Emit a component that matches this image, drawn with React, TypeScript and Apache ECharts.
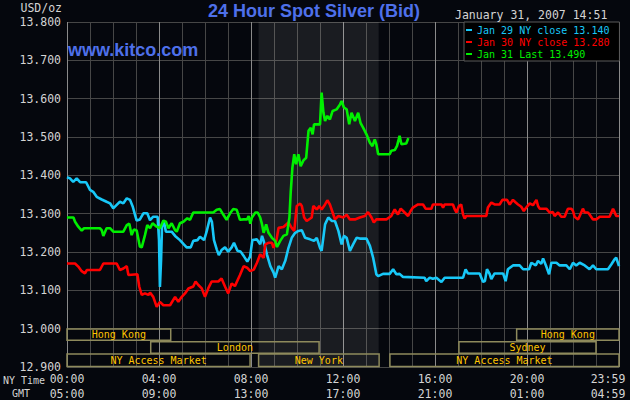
import React, { useEffect, useRef } from "react";
import * as echarts from "echarts";

const MONO = '"DejaVu Sans Mono", monospace';
const SANS = '"Liberation Sans", Arial, sans-serif';

const CYAN = "#18c8f8";
const RED = "#ff0000";
const GREEN = "#00f000";

const seriesNames = ["Jan 29 NY close 13.140", "Jan 30 NY close 13.280", "Jan 31 Last 13.490"];
const nyTimeLabels = ["00:00", "04:00", "08:00", "12:00", "16:00", "20:00", "23:59"];
const gmtLabels = ["05:00", "09:00", "13:00", "17:00", "21:00", "01:00", "04:59"];

// [hours since 00:00 NY, USD/oz]
const jan29: [number, number][] = [
  [0, 13.395], [0.13, 13.392], [0.27, 13.383], [0.42, 13.392], [0.57, 13.382], [0.83, 13.382],
  [1.0, 13.362], [1.14, 13.357], [1.29, 13.344], [1.51, 13.337], [1.72, 13.331], [1.87, 13.327],
  [2.01, 13.314], [2.16, 13.323], [2.3, 13.331], [2.45, 13.327], [2.6, 13.34], [2.74, 13.336],
  [2.86, 13.318], [2.96, 13.296], [3.03, 13.282], [3.17, 13.285], [3.32, 13.301], [3.49, 13.301],
  [3.61, 13.283], [3.75, 13.292], [3.94, 13.292], [4.0, 13.231], [4.04, 13.109], [4.09, 13.179],
  [4.13, 13.266], [4.22, 13.279], [4.3, 13.253], [4.55, 13.253], [4.7, 13.242], [4.91, 13.231],
  [5.06, 13.221], [5.2, 13.212], [5.38, 13.212], [5.49, 13.229], [5.67, 13.231], [5.78, 13.24],
  [5.96, 13.231], [6.07, 13.253], [6.22, 13.29], [6.3, 13.279], [6.39, 13.231], [6.51, 13.207],
  [6.6, 13.192], [6.72, 13.205], [6.87, 13.212], [7.01, 13.201], [7.16, 13.212], [7.26, 13.224],
  [7.41, 13.203], [7.55, 13.201], [7.7, 13.188], [7.84, 13.175], [7.96, 13.188], [8.06, 13.231],
  [8.25, 13.233], [8.4, 13.22], [8.48, 13.242], [8.55, 13.229], [8.69, 13.194], [8.84, 13.163],
  [8.98, 13.146], [9.05, 13.133], [9.2, 13.163], [9.34, 13.155], [9.49, 13.177], [9.63, 13.211],
  [9.77, 13.237], [9.92, 13.25], [10.06, 13.255], [10.21, 13.257], [10.35, 13.237], [10.57, 13.233],
  [10.74, 13.229], [10.86, 13.237], [11.0, 13.211], [11.07, 13.203], [11.22, 13.272], [11.36, 13.29],
  [11.51, 13.281], [11.65, 13.281], [11.8, 13.255], [11.94, 13.22], [12.04, 13.242], [12.16, 13.237],
  [12.3, 13.203], [12.44, 13.22], [12.59, 13.237], [12.73, 13.235], [13.02, 13.235], [13.17, 13.216],
  [13.31, 13.185], [13.45, 13.142], [13.53, 13.137], [13.74, 13.143], [14.03, 13.143], [14.18, 13.155],
  [14.32, 13.142], [14.46, 13.143], [14.61, 13.135], [15.55, 13.133], [15.62, 13.124], [15.77, 13.133],
  [15.91, 13.13], [16.06, 13.133], [16.28, 13.122], [16.42, 13.133], [17.22, 13.133], [17.33, 13.155],
  [17.43, 13.144], [17.94, 13.144], [18.09, 13.122], [18.17, 13.124], [18.26, 13.155], [18.38, 13.142],
  [18.45, 13.129], [18.59, 13.144], [18.96, 13.144], [19.07, 13.124], [19.17, 13.155], [19.39, 13.165],
  [19.68, 13.165], [19.83, 13.155], [20.09, 13.155], [20.19, 13.172], [20.38, 13.165], [20.48, 13.177],
  [20.62, 13.169], [20.7, 13.183], [20.84, 13.162], [20.96, 13.142], [21.06, 13.172], [21.28, 13.172],
  [21.42, 13.165], [21.71, 13.165], [21.86, 13.155], [22.0, 13.172], [22.14, 13.165], [22.29, 13.172],
  [22.51, 13.165], [22.72, 13.155], [22.87, 13.165], [23.01, 13.155], [23.52, 13.155], [23.67, 13.168],
  [23.81, 13.181], [23.88, 13.185], [24, 13.163],
];

const jan30: [number, number][] = [
  [0, 13.17], [0.35, 13.17], [0.49, 13.162], [0.64, 13.15], [0.78, 13.144], [0.86, 13.153],
  [1.43, 13.153], [1.58, 13.17], [2.16, 13.17], [2.3, 13.153], [2.45, 13.157], [2.6, 13.163],
  [2.67, 13.14], [3.06, 13.142], [3.14, 13.11], [3.25, 13.088], [3.39, 13.092], [3.54, 13.088],
  [3.61, 13.094], [3.75, 13.083], [3.9, 13.057], [4.04, 13.07], [4.19, 13.061], [4.48, 13.061],
  [4.7, 13.083], [4.84, 13.07], [4.99, 13.083], [5.13, 13.092], [5.28, 13.105], [5.49, 13.11],
  [5.59, 13.123], [5.71, 13.114], [5.86, 13.105], [6.0, 13.083], [6.14, 13.105], [6.29, 13.123],
  [6.58, 13.123], [6.72, 13.131], [6.87, 13.11], [7.01, 13.092], [7.16, 13.118], [7.3, 13.111],
  [7.52, 13.14], [7.68, 13.163], [7.83, 13.159], [7.97, 13.15], [8.12, 13.154], [8.26, 13.172],
  [8.4, 13.194], [8.55, 13.185], [8.62, 13.22], [8.76, 13.224], [8.91, 13.224], [8.98, 13.211],
  [9.1, 13.229], [9.2, 13.263], [9.41, 13.265], [9.63, 13.277], [9.77, 13.263], [9.88, 13.255],
  [9.99, 13.32], [10.14, 13.326], [10.21, 13.32], [10.31, 13.29], [10.42, 13.281], [10.64, 13.29],
  [10.71, 13.32], [10.86, 13.311], [10.97, 13.32], [11.07, 13.311], [11.22, 13.324], [11.32, 13.335],
  [11.43, 13.324], [11.55, 13.303], [11.65, 13.285], [11.8, 13.294], [12.01, 13.29], [12.16, 13.297],
  [12.3, 13.285], [12.52, 13.285], [12.73, 13.29], [12.95, 13.294], [13.09, 13.304], [13.24, 13.29],
  [13.34, 13.277], [13.45, 13.285], [13.89, 13.285], [14.1, 13.294], [14.25, 13.311], [14.39, 13.298],
  [14.51, 13.313], [14.68, 13.303], [14.83, 13.294], [14.94, 13.307], [15.04, 13.316], [15.26, 13.324],
  [15.48, 13.324], [15.59, 13.313], [15.84, 13.313], [15.91, 13.324], [16.28, 13.324], [16.35, 13.316],
  [16.42, 13.324], [16.78, 13.324], [16.86, 13.311], [16.93, 13.303], [17.04, 13.32], [17.14, 13.324],
  [17.22, 13.298], [17.29, 13.287], [17.36, 13.294], [18.23, 13.294], [18.3, 13.316], [18.45, 13.329],
  [18.59, 13.324], [18.81, 13.324], [18.93, 13.336], [19.13, 13.336], [19.25, 13.324], [19.39, 13.336],
  [19.51, 13.329], [19.61, 13.324], [19.75, 13.318], [19.86, 13.307], [19.97, 13.316], [20.12, 13.327],
  [20.26, 13.322], [20.41, 13.336], [20.48, 13.32], [20.55, 13.313], [20.84, 13.313], [20.99, 13.303],
  [21.13, 13.304], [21.2, 13.294], [21.35, 13.303], [21.49, 13.292], [21.64, 13.292], [21.71, 13.303],
  [21.78, 13.313], [21.93, 13.313], [22.0, 13.307], [22.07, 13.292], [22.22, 13.285], [22.29, 13.294],
  [22.43, 13.313], [22.51, 13.303], [22.65, 13.303], [22.72, 13.298], [22.87, 13.285], [23.01, 13.285],
  [23.16, 13.292], [23.59, 13.292], [23.74, 13.313], [23.81, 13.304], [23.88, 13.294], [24, 13.294],
];

const jan31: [number, number][] = [
  [0, 13.29], [0.28, 13.29], [0.35, 13.279], [0.49, 13.266], [0.64, 13.256], [0.74, 13.262],
  [0.86, 13.262], [1.43, 13.262], [1.51, 13.257], [1.58, 13.242], [1.72, 13.262], [1.87, 13.262],
  [2.01, 13.253], [2.45, 13.253], [2.6, 13.27], [2.71, 13.274], [2.81, 13.244], [2.91, 13.259],
  [3.03, 13.256], [3.17, 13.214], [3.25, 13.212], [3.39, 13.244], [3.49, 13.27], [3.61, 13.262],
  [3.72, 13.275], [3.9, 13.266], [4.04, 13.262], [4.19, 13.282], [4.3, 13.279], [4.41, 13.262],
  [4.55, 13.275], [4.7, 13.257], [4.77, 13.253], [4.91, 13.275], [5.06, 13.279], [5.23, 13.288],
  [5.35, 13.284], [5.49, 13.303], [6.36, 13.303], [6.51, 13.31], [6.65, 13.312], [6.8, 13.297],
  [6.94, 13.284], [7.09, 13.301], [7.23, 13.312], [7.38, 13.31], [7.52, 13.284], [7.68, 13.285],
  [7.83, 13.285], [7.9, 13.294], [7.97, 13.274], [8.04, 13.29], [8.19, 13.303], [8.29, 13.303],
  [8.4, 13.29], [8.48, 13.272], [8.55, 13.25], [8.66, 13.272], [8.76, 13.25], [8.91, 13.237],
  [9.05, 13.229], [9.13, 13.213], [9.27, 13.229], [9.41, 13.242], [9.56, 13.246], [9.67, 13.29],
  [9.73, 13.359], [9.8, 13.42], [9.88, 13.455], [9.96, 13.429], [10.06, 13.455], [10.16, 13.424],
  [10.28, 13.439], [10.4, 13.446], [10.5, 13.516], [10.6, 13.524], [10.68, 13.507], [10.74, 13.533],
  [11.0, 13.533], [11.07, 13.616], [11.15, 13.563], [11.22, 13.542], [11.32, 13.555], [11.43, 13.546],
  [11.55, 13.568], [11.72, 13.572], [11.87, 13.585], [11.94, 13.594], [12.04, 13.577], [12.16, 13.572],
  [12.27, 13.533], [12.37, 13.563], [12.52, 13.542], [12.66, 13.563], [12.76, 13.537], [12.88, 13.524],
  [13.02, 13.507], [13.17, 13.485], [13.28, 13.476], [13.38, 13.494], [13.45, 13.481], [13.53, 13.455],
  [14.03, 13.455], [14.1, 13.464], [14.25, 13.466], [14.35, 13.477], [14.46, 13.503], [14.54, 13.481],
  [14.75, 13.483], [14.84, 13.497],
];

// COMEX (New York) trading hours shading, NY time
const comexHours = [8.33, 13.55];

// market session boxes along the bottom
const sessionNames = ["Hong Kong", "Hong Kong", "London", "Sydney", "NY Access Market", "New York", "NY Access Market"];
const sessionStart = [0, 19.55, 3.64, 17.04, 0, 8.33, 14.04];
const sessionEnd = [4.51, 24, 10.96, 23.0, 7.96, 13.57, 24];
const sessionRow = [0, 0, 1, 1, 2, 2, 2];
const rowTop = [12.999, 12.966, 12.934];
const rowBottom = [12.97, 12.936, 12.901];

export default function App() {
  const ref = useRef<HTMLDivElement>(null);

  useEffect(() => {
    document.body.style.margin = "0";
    document.body.style.background = "#05070d";
    if (!ref.current) return;
    const chart = echarts.init(ref.current, undefined, { renderer: "svg" });

    const sessionData = sessionNames.map((name, i) => [
      {
        name,
        xAxis: sessionStart[i],
        yAxis: rowTop[sessionRow[i]],
        itemStyle: { color: "rgba(0,0,0,0)", borderColor: "#8e8a5c", borderWidth: 1.5 },
        label: {
          show: true,
          position: "inside",
          color: "#ffc400",
          fontFamily: MONO,
          fontSize: 10,
        },
      },
      { xAxis: sessionEnd[i], yAxis: rowBottom[sessionRow[i]] },
    ]);

    const lineColors = [CYAN, RED, GREEN];
    const lineData = [jan29, jan30, jan31];

    chart.setOption({
      animation: false,
      backgroundColor: "#05070d",
      grid: {
        left: 67,
        top: 22,
        width: 552,
        height: 345,
        containLabel: false,
        outerBoundsMode: "none",
      },
      xAxis: {
        type: "value",
        min: 0,
        max: 24,
        interval: 1,
        axisLine: { show: false },
        axisTick: { show: false },
        splitLine: {
          show: true,
          lineStyle: { color: ["#8a8a8a", "#464646", "#464646", "#464646"], width: 1 },
        },
        axisLabel: {
          margin: 4,
          showMinLabel: true,
          showMaxLabel: true,
          hideOverlap: false,
          color: "#d4d4d4",
          fontFamily: MONO,
          fontSize: 11.5,
          lineHeight: 15,
          formatter: (v: number) => {
            if (Math.abs(v % 4) > 1e-6) return "";
            const i = Math.round(v / 4);
            if (i === 6) return `{e|${nyTimeLabels[i]}}\n{e|${gmtLabels[i]}}`;
            return `${nyTimeLabels[i]}\n${gmtLabels[i]}`;
          },
          rich: {
            e: {
              color: "#d4d4d4",
              fontFamily: MONO,
              fontSize: 11.5,
              lineHeight: 15,
              padding: [0, 22, 0, 0],
            },
          },
        },
      },
      yAxis: {
        type: "value",
        min: 12.9,
        max: 13.8,
        interval: 0.1,
        axisLine: { show: false },
        axisTick: { show: false },
        splitLine: { show: true, lineStyle: { color: "#464646", width: 1 } },
        axisLabel: {
          margin: 6,
          color: "#d4d4d4",
          fontFamily: MONO,
          fontSize: 11.5,
          formatter: (v: number) => v.toFixed(3),
        },
      },
      legend: {
        show: true,
        orient: "vertical",
        left: 464,
        top: 22,
        padding: [2, 10, 1, 2],
        itemGap: 0,
        itemWidth: 6,
        itemHeight: 2,
        icon: "rect",
        selectedMode: false,
        backgroundColor: "#000000",
        borderColor: "#5a5a5a",
        borderWidth: 1,
        textStyle: { fontFamily: MONO, fontSize: 10, lineHeight: 12 },
        data: seriesNames.map((name, i) => ({ name, textStyle: { color: lineColors[i] } })),
      },
      graphic: [
        {
          type: "text",
          x: 314,
          y: 11,
          z: 100,
          style: {
            text: "24 Hour Spot Silver (Bid)",
            align: "center",
            verticalAlign: "middle",
            fontFamily: SANS,
            fontWeight: "bold",
            fontSize: 18,
            fill: "#4e70ea",
          },
        },
        {
          type: "text",
          x: 68,
          y: 50,
          z: 100,
          style: {
            text: "www.kitco.com",
            align: "left",
            verticalAlign: "middle",
            fontFamily: SANS,
            fontWeight: "bold",
            fontSize: 18,
            fill: "#4e70ea",
          },
        },
        {
          type: "text",
          x: 62,
          y: 8,
          z: 100,
          style: {
            text: "USD/oz",
            align: "right",
            verticalAlign: "middle",
            fontFamily: MONO,
            fontSize: 11.5,
            fill: "#d4d4d4",
          },
        },
        {
          type: "text",
          x: 455,
          y: 15,
          z: 100,
          style: {
            text: "January 31, 2007 14:51",
            align: "left",
            verticalAlign: "middle",
            fontFamily: MONO,
            fontSize: 11.5,
            fill: "#d4d4d4",
          },
        },
        {
          type: "text",
          x: 3,
          y: 380,
          z: 100,
          style: {
            text: "NY Time",
            align: "left",
            verticalAlign: "middle",
            fontFamily: MONO,
            fontSize: 10,
            fill: "#d4d4d4",
          },
        },
        {
          type: "text",
          x: 12,
          y: 393,
          z: 100,
          style: {
            text: "GMT",
            align: "left",
            verticalAlign: "middle",
            fontFamily: MONO,
            fontSize: 10,
            fill: "#d4d4d4",
          },
        },
      ],
      series: [
        {
          name: "comex",
          type: "line",
          data: [],
          z: 1,
          silent: true,
          markArea: {
            silent: true,
            data: [
              [
                { xAxis: comexHours[0], itemStyle: { color: "rgba(255,255,255,0.085)" } },
                { xAxis: comexHours[1] },
              ],
            ],
          },
        },
        {
          name: "sessions",
          type: "line",
          data: [],
          z: 2,
          silent: true,
          markArea: { silent: true, data: sessionData },
        },
        ...lineData.map((d, i) => ({
          name: seriesNames[i],
          type: "line",
          data: d,
          showSymbol: false,
          symbol: "none",
          z: 5,
          lineStyle: { color: lineColors[i], width: 2.6 },
          itemStyle: { color: lineColors[i] },
        })),
      ],
    });

    return () => chart.dispose();
  }, []);

  return <div ref={ref} style={{ width: 630, height: 400 }} />;
}
